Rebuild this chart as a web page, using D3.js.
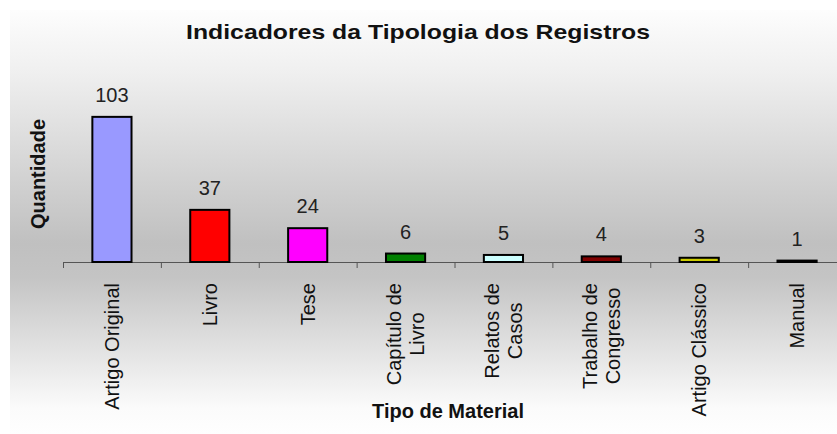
<!DOCTYPE html>
<html>
<head>
<meta charset="utf-8">
<script src="https://cdn.jsdelivr.net/npm/d3@7"></script>
<style>
  body { margin: 0; background: #fff; }
  text { font-family: "Liberation Sans", Arial, sans-serif; }
</style>
</head>
<body>
<div id="chart"></div>
<script>
// chart data
const categories = ["Artigo Original", "Livro", "Tese", "Capítulo de\nLivro", "Relatos de\nCasos", "Trabalho de\nCongresso", "Artigo Clássico", "Manual"];
const values = [103, 37, 24, 6, 5, 4, 3, 1];
const barColors = ["#9999ff", "#ff0000", "#ff00ff", "#008000", "#ccffff", "#800000", "#cccc00", "#000080"];

const width = 837;
const height = 434;

const svg = d3.select("#chart")
  .append("svg")
  .attr("width", width)
  .attr("height", height);

// background gradient (white -> gray -> white)
const grad = svg.append("defs")
  .append("linearGradient")
  .attr("id", "bg")
  .attr("x1", 0).attr("y1", 0).attr("x2", 0).attr("y2", 1);
grad.append("stop").attr("offset", "0%").attr("stop-color", "#fdfdfd");
grad.append("stop").attr("offset", "15%").attr("stop-color", "#efefef");
grad.append("stop").attr("offset", "55%").attr("stop-color", "#c0c0c0");
grad.append("stop").attr("offset", "63%").attr("stop-color", "#c4c4c4");
grad.append("stop").attr("offset", "80%").attr("stop-color", "#e2e2e2");
grad.append("stop").attr("offset", "94%").attr("stop-color", "#fbfbfb");
grad.append("stop").attr("offset", "100%").attr("stop-color", "#fefefe");

svg.append("rect")
  .attr("x", 10).attr("y", 10)
  .attr("width", width - 10).attr("height", height - 10)
  .attr("fill", "url(#bg)");

// scales
const x = d3.scaleBand()
  .domain(categories)
  .range([63, 846])
  .paddingInner(0.6)
  .paddingOuter(0.3);

const y = d3.scaleLinear()
  .domain([0, 110])
  .range([262, 262 - 155]);

// axis with ticks between categories
const tickScale = d3.scaleLinear().domain([0, categories.length]).range([63, 846]);
const axis = svg.append("g")
  .attr("transform", "translate(0,262)")
  .call(d3.axisBottom(tickScale)
    .tickValues(d3.range(categories.length + 1))
    .tickFormat("")
    .tickSize(6)
    .tickSizeOuter(0));
axis.select(".domain").attr("stroke", "#555");
axis.selectAll(".tick line").attr("stroke", "#555");

// bars
svg.selectAll(".bar")
  .data(values)
  .enter()
  .append("rect")
  .attr("class", "bar")
  .attr("x", (d, i) => x(categories[i]))
  .attr("y", d => y(d))
  .attr("width", x.bandwidth())
  .attr("height", d => y(0) - y(d))
  .attr("fill", (d, i) => barColors[i])
  .attr("stroke", "#000")
  .attr("stroke-width", 2);

// value labels
svg.selectAll(".val")
  .data(values)
  .enter()
  .append("text")
  .attr("class", "val")
  .attr("x", (d, i) => x(categories[i]) + x.bandwidth() / 2)
  .attr("y", d => y(d) - 15)
  .attr("text-anchor", "middle")
  .attr("font-size", "20px")
  .attr("fill", "#222")
  .text(d => d);

// category labels, rotated, top-aligned under axis, lines centered
const labelTop = 283;
categories.forEach((c, i) => {
  const lines = c.split("\n");
  const cx = x(c) + x.bandwidth() / 2;
  const g = svg.append("g").attr("transform", "rotate(-90)");
  const texts = lines.map((ln, j) => g.append("text")
    .attr("text-anchor", "middle")
    .attr("font-size", "20px")
    .attr("fill", "#111")
    .attr("y", cx)
    .attr("dy", ((j - (lines.length - 1) / 2) * 1.12 + 0.35) + "em")
    .text(ln));
  const maxLen = d3.max(texts, t => t.node().getComputedTextLength());
  texts.forEach(t => t.attr("x", -(labelTop + maxLen / 2)));
});

// title
svg.append("text")
  .attr("x", 418)
  .attr("y", 39)
  .attr("text-anchor", "middle")
  .attr("font-size", "21px")
  .attr("font-weight", "bold")
  .attr("fill", "#111")
  .attr("textLength", 464)
  .attr("lengthAdjust", "spacingAndGlyphs")
  .text("Indicadores da Tipologia dos Registros");

// y axis title
svg.append("text")
  .attr("transform", "translate(38,174) rotate(-90)")
  .attr("text-anchor", "middle")
  .attr("dy", "0.35em")
  .attr("font-size", "20px")
  .attr("font-weight", "bold")
  .attr("fill", "#111")
  .text("Quantidade");

// x axis title
svg.append("text")
  .attr("x", 448)
  .attr("y", 418)
  .attr("text-anchor", "middle")
  .attr("font-size", "20px")
  .attr("font-weight", "bold")
  .attr("fill", "#111")
  .text("Tipo de Material");
</script>
</body>
</html>
